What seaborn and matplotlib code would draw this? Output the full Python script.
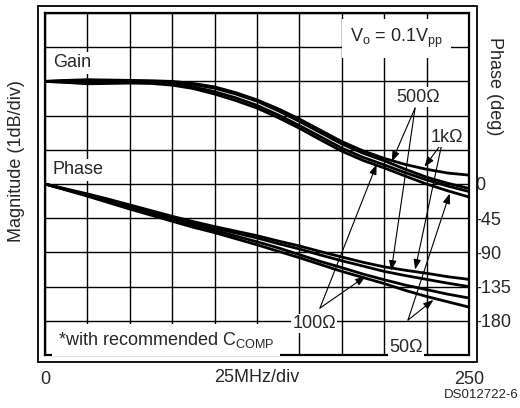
import numpy as np
import pandas as pd
import matplotlib
matplotlib.use("Agg")
import matplotlib.pyplot as plt
from matplotlib.patches import Rectangle
import seaborn as sns

# x axis in MHz, read every half division (25MHz/div)
freq = [0, 12.5, 25, 37.5, 50, 62.5, 75, 87.5, 100, 112.5, 125, 137.5,
        150, 162.5, 175, 187.5, 200, 212.5, 225, 237.5, 250]
loads = ["1k", "500", "100", "50"]

# gain in dB (0 = DC level), one list per load
gain_1k = [0, 0.03, 0.05, 0.04, 0.03, 0.02, 0.0, -0.06, -0.16, -0.33, -0.54, -0.8,
           -1.1, -1.43, -1.76, -2.03, -2.25, -2.43, -2.57, -2.68, -2.74]
gain_500 = [0, 0.02, 0.03, 0.02, 0.01, 0.0, -0.03, -0.09, -0.2, -0.37, -0.58, -0.86,
            -1.17, -1.5, -1.83, -2.1, -2.32, -2.57, -2.8, -2.98, -3.13]
gain_100 = [0, -0.02, -0.05, -0.04, -0.03, -0.04, -0.08, -0.16, -0.3, -0.48, -0.7, -0.98,
            -1.29, -1.62, -1.95, -2.22, -2.44, -2.67, -2.88, -3.06, -3.22]
gain_50 = [0, -0.03, -0.07, -0.06, -0.05, -0.06, -0.11, -0.21, -0.37, -0.56, -0.78, -1.06,
           -1.37, -1.71, -2.04, -2.31, -2.53, -2.77, -3.0, -3.2, -3.38]

# phase in degrees
phase_1k = [0, -6.5, -13, -20, -27.5, -35, -42.5, -49.5, -56, -62, -68, -75,
            -81.5, -89, -96, -103, -109, -113.5, -117.5, -122, -125.5]
phase_500 = [0, -7, -14, -21, -29, -36.5, -44, -51, -58, -64.5, -71, -78.5,
             -85.5, -93.5, -101, -108, -115, -120.5, -125.5, -130.5, -135]
phase_100 = [0, -7.5, -15, -23, -31, -38.5, -46, -54, -61, -68.5, -76, -84,
             -93, -102, -110, -118.5, -126, -133, -139, -145, -150]
phase_50 = [0, -8, -16, -24.5, -33, -41, -49, -57, -64, -72, -80, -88.5,
            -97, -106, -115, -123, -131, -140, -148, -155, -162]

phase_ticks = [0, -45, -90, -135, -180]

gain_df = pd.DataFrame({
    "freq": freq * 4,
    "gain": gain_1k + gain_500 + gain_100 + gain_50,
    "load": [l for l in loads for _ in freq],
})
phase_df = pd.DataFrame({
    "freq": freq * 4,
    "phase": phase_1k + phase_500 + phase_100 + phase_50,
    "load": [l for l in loads for _ in freq],
})

sns.set_style("white")
plt.rcParams["font.family"] = ["Liberation Sans", "DejaVu Sans"]
plt.rcParams["mathtext.fontset"] = "custom"
plt.rcParams["mathtext.rm"] = "Liberation Sans"
plt.rcParams["mathtext.it"] = "Liberation Sans"
plt.rcParams["axes.unicode_minus"] = False

FS = 13

fig = plt.figure(figsize=(5.2, 4.08), dpi=100)
ax = fig.add_axes([45 / 520, 53 / 408, 424 / 520, 342 / 408])
ax2 = ax.twinx()

sns.lineplot(data=gain_df, x="freq", y="gain", hue="load", palette=["black"] * 4,
             legend=False, lw=2.0, sort=False, ax=ax)
sns.lineplot(data=phase_df, x="freq", y="phase", hue="load", palette=["black"] * 4,
             legend=False, lw=2.0, sort=False, ax=ax2)

ax.set_xlim(0, 250)
ax.set_ylim(-8, 2)
ax2.set_ylim(-225, 225)

xt = np.arange(0, 251, 25)
ax.set_xticks(xt)
ax.set_xticklabels(["0"] + [""] * 9 + ["250"], fontsize=FS)
ax.set_yticks(np.arange(-8, 3, 1))
ax.set_yticklabels([])
ax.grid(True, color="black", lw=1.0)
ax.tick_params(axis="both", length=0)
ax.tick_params(axis="x", pad=11.5)

ax2.set_yticks(phase_ticks)
ax2.set_yticklabels([str(v) for v in phase_ticks], fontsize=FS)
ax2.tick_params(axis="y", length=0, pad=4.3)

for sp in ax.spines.values():
    sp.set_linewidth(1.6)
    sp.set_color("black")
for sp in ax2.spines.values():
    sp.set_visible(False)

ax.set_xlabel("25MHz/div", fontsize=FS, va="center")
ax.xaxis.set_label_coords(0.5, -23 / 342)
ax.set_ylabel("Magnitude (1dB/div)", fontsize=FS, rotation=90, va="center", ha="center")
ax.yaxis.set_label_coords(-0.067, 0.566)
ax2.set_ylabel("Phase (deg)", fontsize=FS, rotation=270, va="center", ha="center")
ax2.yaxis.set_label_coords(1.059, 0.787)

# outer frame
fig.add_artist(Rectangle((38 / 520, 46 / 408), 439 / 520, 356 / 408,
                         transform=fig.transFigure, fill=False, lw=1.3, ec="black"))

box = dict(facecolor="white", edgecolor="none", pad=1.5)
ax.text(4.7, 0.54, "Gain", fontsize=FS, ha="left", va="center", bbox=box)
ax.text(4.7, -2.59, "Phase", fontsize=FS, ha="left", va="center", bbox=box)
ax.text(180, 1.15, "V$_\\mathrm{o}$ = 0.1V$_\\mathrm{pp}$", fontsize=FS, ha="left",
        va="baseline", bbox=dict(facecolor="white", edgecolor="none", pad=6))
ax.text(7.7, -7.71, "*with recommended C$_\\mathrm{COMP}$", fontsize=FS, ha="left",
        va="baseline", bbox=dict(facecolor="white", edgecolor="none", pad=4))

labels = {"500": ("500Ω", 219.9, -0.6), "1k": ("1kΩ", 237.0, -1.77),
          "100": ("100Ω", 158.6, -7.21), "50": ("50Ω", 212.8, -7.91)}
for key, (txt, lx, ly) in labels.items():
    ax.text(lx, ly, txt, fontsize=FS, ha="center", va="baseline",
            bbox=dict(facecolor="white", edgecolor="none", pad=1.0), zorder=4)

# arrow origins (MHz, dB) and the frequencies the arrows point at
arrow_from = {"500": (218.2, -0.78), "1k": (234.1, -1.8),
              "100": (162.1, -6.63), "50": (214.0, -6.98)}
gain_at = {"500": 204, "1k": 223, "100": 196, "50": 239}
phase_at = {"500": 204, "1k": 218, "100": 190, "50": 230}
gains = {"1k": gain_1k, "500": gain_500, "100": gain_100, "50": gain_50}
phases = {"1k": phase_1k, "500": phase_500, "100": phase_100, "50": phase_50}

aprops = dict(arrowstyle="-|>,head_length=0.6,head_width=0.22", color="black",
              lw=0.8, shrinkA=0, shrinkB=1.5)
for key in loads:
    fx = gain_at[key]
    ax.annotate("", xy=(fx, np.interp(fx, freq, gains[key])), xytext=arrow_from[key],
                xycoords=ax.transData, textcoords=ax.transData, arrowprops=aprops)
    px = phase_at[key]
    ax.annotate("", xy=(px, np.interp(px, freq, phases[key])), xytext=arrow_from[key],
                xycoords=ax2.transData, textcoords=ax.transData, arrowprops=aprops)

fig.text(519 / 520, 13 / 408, "DS012722-6", fontsize=9.5, ha="right", va="center")

fig.savefig("out.png", dpi=100)
